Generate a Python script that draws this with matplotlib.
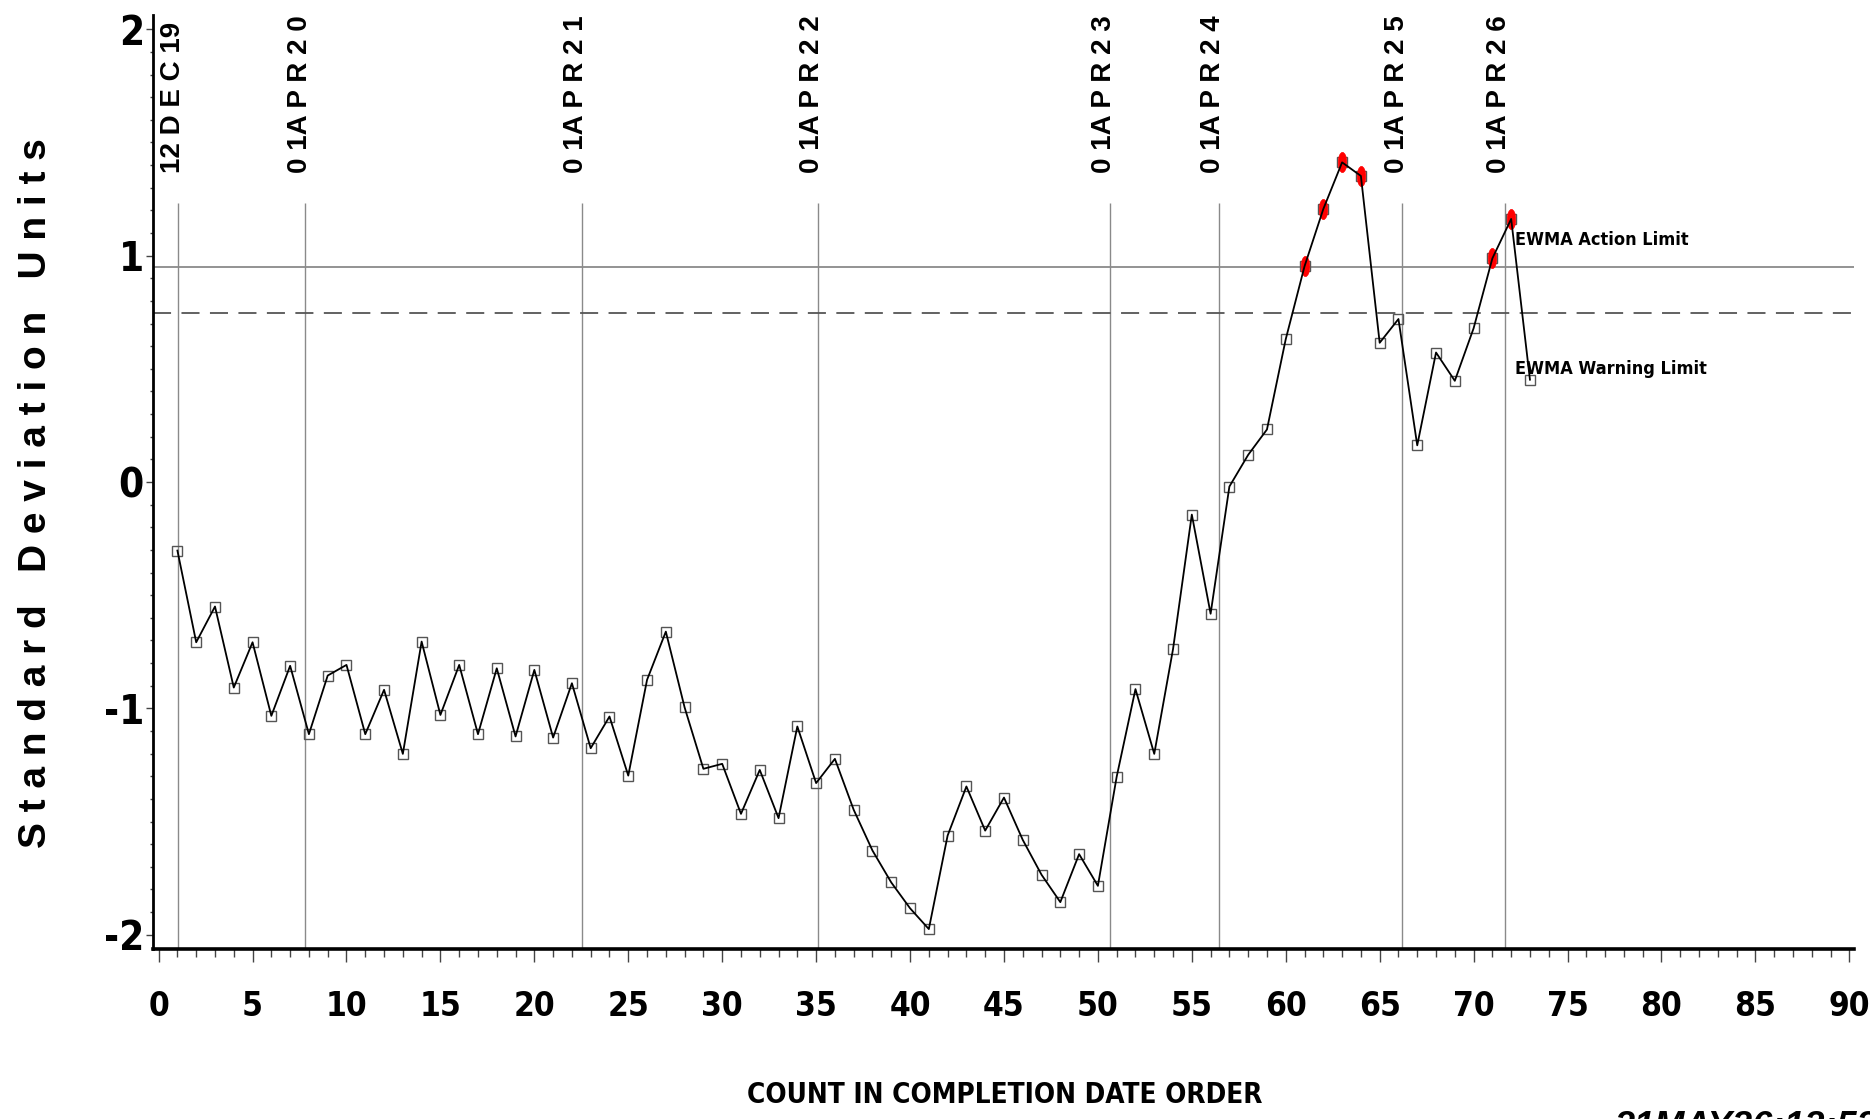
import matplotlib
matplotlib.use("Agg")
import matplotlib.pyplot as plt
from matplotlib.path import Path
from matplotlib.transforms import Affine2D
from matplotlib import font_manager as fm
from matplotlib.ticker import MultipleLocator, FixedLocator

# ---------------- data ----------------
count = list(range(1, 74))
ewma = [-0.303, -0.708, -0.550, -0.908, -0.708, -1.033, -0.812, -1.114, -0.855, -0.808,
        -1.114, -0.918, -1.201, -0.705, -1.029, -0.808, -1.114, -0.823, -1.124, -0.830,
        -1.129, -0.889, -1.176, -1.036, -1.297, -0.874, -0.661, -0.996, -1.267, -1.245,
        -1.466, -1.272, -1.485, -1.080, -1.330, -1.223, -1.448, -1.628, -1.769, -1.883,
        -1.975, -1.562, -1.345, -1.540, -1.394, -1.581, -1.735, -1.856, -1.644, -1.784,
        -1.302, -0.915, -1.201, -0.738, -0.144, -0.582, -0.020, 0.120, 0.232, 0.631,
        0.953, 1.206, 1.412, 1.352, 0.615, 0.720, 0.162, 0.572, 0.447, 0.679,
        0.988, 1.162, 0.452]
out_of_control = [61, 62, 63, 64, 71, 72]
action_limit = 0.95
warning_limit = 0.745
date_positions = [1.05, 7.81, 22.52, 35.08, 50.62, 56.43, 66.18, 71.65]
date_labels = ["12 D E C 19", "0 1A P R 2 0", "0 1A P R 2 1", "0 1A P R 2 2",
               "0 1A P R 2 3", "0 1A P R 2 4", "0 1A P R 2 5", "0 1A P R 2 6"]
x_ticks = list(range(0, 91, 5))
y_ticks = [-2, -1, 0, 1, 2]
y_tick_labels = ["-2", "-1", "0", "1", "2"]
x_title = "COUNT IN COMPLETION DATE ORDER"
y_title = "S t a n d a r d   D e v i a t i o n   U n i t s"
action_text = "EWMA Action Limit"
warning_text = "EWMA Warning Limit"
stamp_text = "31MAY26:12:53"

# ---------------- fonts ----------------
def pick_condensed():
    best = None
    for f in fm.fontManager.ttflist:
        nm = (f.name + " " + f.fname).lower()
        cond = ("narrow" in nm or "condensed" in nm or
                f.stretch in ("condensed", "semi-condensed", "extra-condensed", "ultra-condensed"))
        if not cond:
            continue
        w = f.weight
        if not isinstance(w, int):
            w = {"bold": 700, "normal": 400, "regular": 400}.get(str(w).lower(), 400)
        ital = ("italic" in f.style) or ("oblique" in f.style)
        score = abs(w - 700) + (500 if ital else 0)
        if "liberation" in nm:
            score -= 50
        if best is None or score < best[0]:
            best = (score, f)
    if best is None:
        return None
    return fm.FontProperties(fname=best[1].fname)

cond_fp = pick_condensed()
if cond_fp is None:
    cond_fp = fm.FontProperties(family="Liberation Sans", weight="bold")
    shrink = 0.9
else:
    shrink = 1.0

def cfp(size):
    p = cond_fp.copy()
    p.set_size(size * shrink)
    return p

bold_family = ["Liberation Sans", "DejaVu Sans"]

# ---------------- figure ----------------
W, H = 1870, 1119
fig = plt.figure(figsize=(W / 100, H / 100), dpi=100)
plt.rcParams["lines.scale_dashes"] = False
ax = fig.add_axes([153 / W, (H - 949) / H, (1854 - 153) / W, (949 - 15) / H])
ax.set_xlim(-0.3, 90.25)
ax.set_ylim(-2.063, 2.063)

for s in ("top", "right"):
    ax.spines[s].set_visible(False)
ax.spines["left"].set_linewidth(2.0)
ax.spines["bottom"].set_linewidth(2.6)

# reference lines
ax.vlines(date_positions, -2.063, 1.232, colors="#8a8a8a", linewidth=1.0, zorder=1)
ax.axhline(action_limit, color="#8a8a8a", linewidth=1.3, zorder=1)
ax.axhline(warning_limit, color="#555555", linewidth=1.3, dashes=(13, 7.5), zorder=1)

for xp, lbl in zip(date_positions, date_labels):
    ax.text(xp - 0.28, 1.365, lbl, rotation=90, ha="center", va="bottom",
            family=bold_family, fontweight="bold", fontsize=20, color="black")

# data
ax.plot(count, ewma, linestyle="none", marker="s", markersize=7.6,
        markerfacecolor="none", markeredgecolor="#555555", markeredgewidth=1.0, zorder=3)
ellipse = Path.unit_circle().transformed(Affine2D().scale(0.42, 1.0))
ooc_x = [c for c in count if c in out_of_control]
ooc_y = [ewma[count.index(c)] for c in out_of_control]
ax.plot(ooc_x, ooc_y, linestyle="none", marker=ellipse, markersize=14.5,
        markerfacecolor="#ff0000", markeredgecolor="#ff0000", markeredgewidth=0.5, zorder=4)
ax.plot(count, ewma, color="black", linewidth=1.3, zorder=5)

ax.text(72.19, 1.047, action_text, ha="left", va="baseline",
        fontproperties=cfp(13), color="black", zorder=6)
ax.text(72.19, 0.477, warning_text, ha="left", va="baseline",
        fontproperties=cfp(13), color="black", zorder=6)

# ticks
ax.xaxis.set_major_locator(FixedLocator(x_ticks))
ax.xaxis.set_minor_locator(MultipleLocator(1))
ax.set_xticklabels([str(v) for v in x_ticks])
ax.tick_params(axis="x", which="major", length=9.4, width=1.0, color="#444444",
               direction="out", pad=32)
ax.tick_params(axis="x", which="minor", length=5.4, width=1.0, color="#444444",
               direction="out")
for t in ax.get_xticklabels():
    t.set_fontproperties(cfp(24))
    t.set_va("center")

ax.yaxis.set_major_locator(FixedLocator(y_ticks))
ax.yaxis.set_minor_locator(MultipleLocator(0.1))
ax.set_yticklabels(y_tick_labels)
ax.tick_params(axis="y", which="major", length=5, width=1.0, color="#444444",
               direction="out", pad=1.5)
ax.tick_params(axis="y", which="minor", length=2.5, width=1.0, color="#444444",
               direction="out")
for t in ax.get_yticklabels():
    t.set_fontproperties(cfp(29))

# titles
fig.text(1004.5 / W, (H - 1095) / H, x_title, ha="center", va="center",
         fontproperties=cfp(20), color="black")
fig.text(36.5 / W, (H - 493.5) / H, y_title, rotation=90, ha="center", va="center",
         family=bold_family, fontweight="bold", fontsize=28, color="black")
fig.text(1615 / W, (H - 1110) / H, stamp_text, ha="left", va="top",
         family=bold_family, fontweight="bold", fontstyle="italic", fontsize=26, color="black")

fig.savefig("out.png", dpi=100, facecolor="white")
